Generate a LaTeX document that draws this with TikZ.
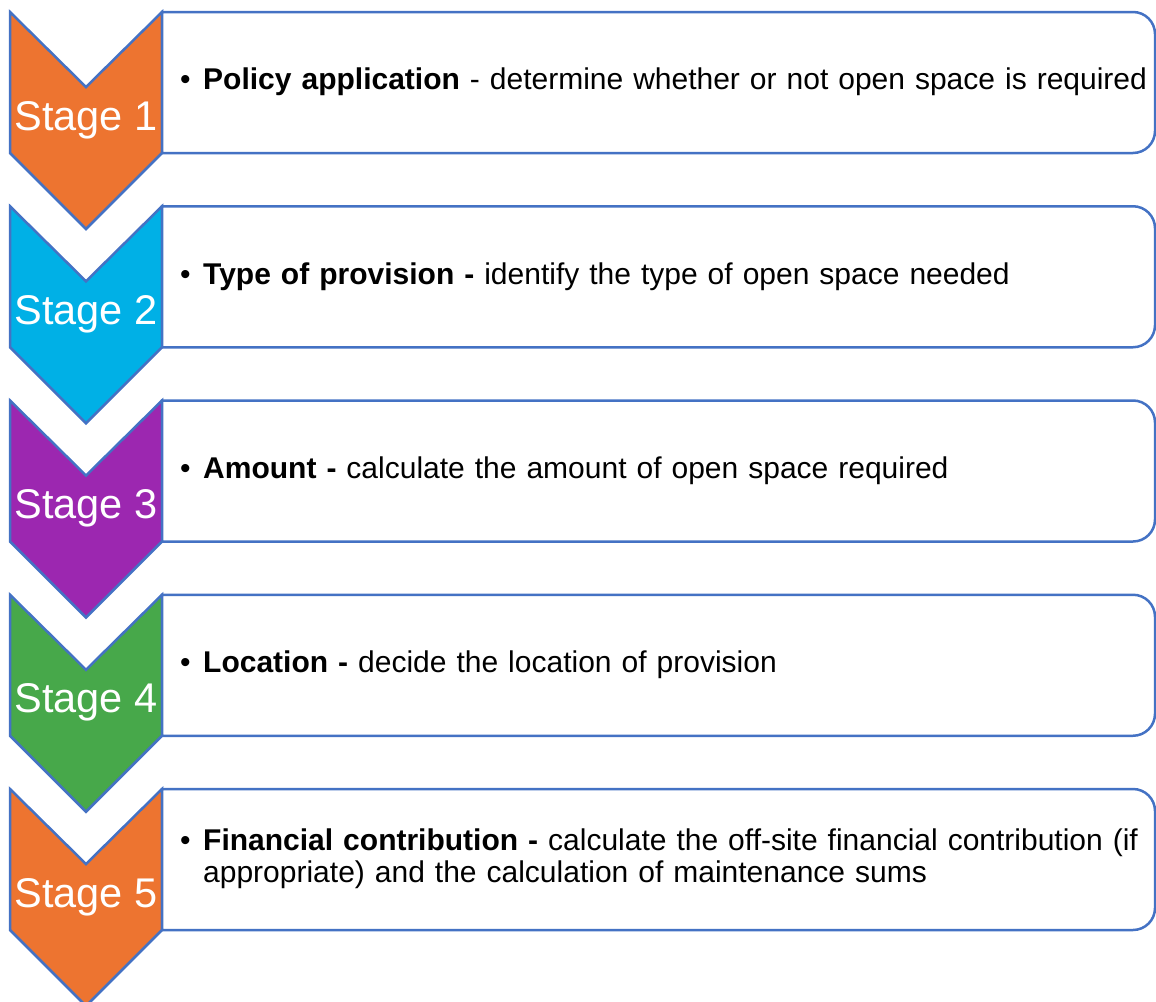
\documentclass[tikz,border=0pt]{standalone}
\usepackage{fontspec}
\setmainfont{Liberation Sans}
\definecolor{edgeblue}{HTML}{4472C4}
\definecolor{stageorange}{HTML}{ED7430}
\definecolor{stagecyan}{HTML}{00B0E6}
\definecolor{stagepurple}{HTML}{9C27B0}
\definecolor{stagegreen}{HTML}{47A84A}
\tikzset{
  chevron/.style={draw=edgeblue, line width=2.5pt, line join=miter},
  itembox/.style={draw=edgeblue, line width=2.5pt, fill=white},
  stagelabel/.style={text=white, font=\fontsize{41.5}{46}\selectfont, inner sep=0pt},
  itemtext/.style={anchor=west, inner sep=0pt, text width=975pt, align=left,
    font=\fontsize{30}{32}\selectfont}
}
\begin{document}
\begin{tikzpicture}[x=1pt, y=-1pt]
  \useasboundingbox (0,0) rectangle (1156,1001);
  \foreach \i/\col/\title/\desc [evaluate=\i as \t using {12+(\i-1)*194.25}] in {
      1/stageorange/{Policy application}/{- determine whether or not open space is required},
      2/stagecyan/{Type of provision -}/{identify the type of open space needed},
      3/stagepurple/{Amount -}/{calculate the amount of open space required},
      4/stagegreen/{Location -}/{decide the location of provision},
      5/stageorange/{Financial contribution -}/{calculate the off-site financial contribution (if appropriate) and the calculation of maintenance sums}} {
    % chevron
    \draw[chevron, fill=\col] (10,\t) -- (86,{\t+75}) -- (162,\t) -- (162,{\t+141})
      -- (86,{\t+217}) -- (10,{\t+141}) -- cycle;
    \node[stagelabel] (stage\i) at (86,{\t+108}) {Stage \i};
    % text box, rounded on the right
    \draw[itembox] (162,\t) -- (1133,\t) arc[start angle=-90, end angle=0, radius=22]
      -- (1155,{\t+119}) arc[start angle=0, end angle=90, radius=22]
      -- (162,{\t+141}) -- cycle;
    \node[itemtext] (item\i) at (180,{\t+70})
      {\hyphenpenalty=10000 \exhyphenpenalty=10000 \hangindent=23pt \hangafter=1
       \makebox[23pt][l]{\textbullet}\textbf{\title} \desc\par};
  }
\end{tikzpicture}
\end{document}
